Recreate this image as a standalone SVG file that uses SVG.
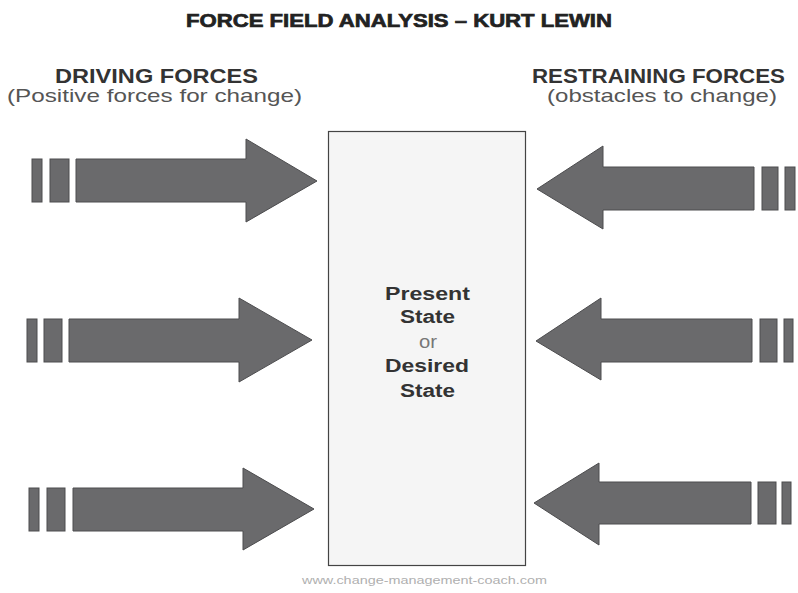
<svg xmlns="http://www.w3.org/2000/svg" width="798" height="593" viewBox="0 0 798 593">
  <style>
    .arrow { fill: #6a6a6c; stroke: #4c4c4e; stroke-width: 1; stroke-linejoin: miter; }
    .title { font-family: "Liberation Sans", Arial, sans-serif; font-weight: bold; font-size: 19px; fill: #222; stroke: #222; stroke-width: 0.7; }
    .head { font-family: "Liberation Sans", Arial, sans-serif; font-weight: bold; font-size: 21px; fill: #333; }
    .sub { font-family: "Liberation Sans", Arial, sans-serif; font-size: 19px; fill: #555; }
    .state { font-family: "Liberation Sans", Arial, sans-serif; font-weight: bold; font-size: 18px; fill: #333; }
    .or { font-family: "Liberation Sans", Arial, sans-serif; font-size: 18px; fill: #777; }
    .foot { font-family: "Liberation Sans", Arial, sans-serif; font-size: 10.5px; fill: #b0b0b0; }
  </style>

  <rect x="0" y="0" width="798" height="593" fill="#ffffff"/>

  <g id="title">
    <text class="title" x="186" y="27" textLength="426" lengthAdjust="spacingAndGlyphs">FORCE FIELD ANALYSIS – KURT LEWIN</text>
  </g>

  <g id="driving-heading">
    <text class="head" x="55" y="83" textLength="203" lengthAdjust="spacingAndGlyphs">DRIVING FORCES</text>
    <text class="sub" x="7" y="102" textLength="295" lengthAdjust="spacingAndGlyphs">(Positive forces for change)</text>
  </g>

  <g id="restraining-heading">
    <text class="head" x="532" y="83" textLength="253" lengthAdjust="spacingAndGlyphs">RESTRAINING FORCES</text>
    <text class="sub" x="547" y="102" textLength="230" lengthAdjust="spacingAndGlyphs">(obstacles to change)</text>
  </g>

  <g id="state-box">
    <rect x="328.5" y="131.5" width="197" height="434" fill="#f5f5f5" stroke="#444" stroke-width="1.2"/>
    <text class="state" x="385" y="300" textLength="85" lengthAdjust="spacingAndGlyphs">Present</text>
    <text class="state" x="400" y="323" textLength="55" lengthAdjust="spacingAndGlyphs">State</text>
    <text class="or" x="419" y="348" textLength="18" lengthAdjust="spacingAndGlyphs">or</text>
    <text class="state" x="385" y="372" textLength="84" lengthAdjust="spacingAndGlyphs">Desired</text>
    <text class="state" x="400" y="397" textLength="55" lengthAdjust="spacingAndGlyphs">State</text>
  </g>

  <g id="forces">
    <!-- driving forces, pointing right -->
    <g id="drive-1">
      <rect class="arrow" x="32" y="159" width="10" height="43"/>
      <rect class="arrow" x="50" y="159" width="19" height="43"/>
      <polygon class="arrow" points="76,159 246,159 246,139 317,181 246,222 246,202 76,202"/>
    </g>
    <g id="drive-2">
      <rect class="arrow" x="27" y="319" width="10" height="43"/>
      <rect class="arrow" x="44" y="319" width="18" height="43"/>
      <polygon class="arrow" points="69,319 239,319 239,298 312,340 239,382 239,362 69,362"/>
    </g>
    <g id="drive-3">
      <rect class="arrow" x="29" y="488" width="10" height="43"/>
      <rect class="arrow" x="47" y="488" width="18" height="43"/>
      <polygon class="arrow" points="73,488 243,488 243,468 314,509 243,550 243,531 73,531"/>
    </g>

    <!-- restraining forces, pointing left -->
    <g id="restrain-1">
      <polygon class="arrow" points="537,189 603,146 603,167 754,167 754,210 603,210 603,229"/>
      <rect class="arrow" x="762" y="167" width="16" height="43"/>
      <rect class="arrow" x="785" y="167" width="10" height="43"/>
    </g>
    <g id="restrain-2">
      <polygon class="arrow" points="536,341 601,298 601,319 752,319 752,362 601,362 601,380"/>
      <rect class="arrow" x="760" y="319" width="17" height="43"/>
      <rect class="arrow" x="784" y="319" width="9" height="43"/>
    </g>
    <g id="restrain-3">
      <polygon class="arrow" points="534,503 599,463 599,482 751,482 751,524 599,524 599,545"/>
      <rect class="arrow" x="758" y="482" width="18" height="42"/>
      <rect class="arrow" x="782" y="482" width="9" height="42"/>
    </g>
  </g>

  <g id="footer">
    <text class="foot" x="302" y="584" textLength="245" lengthAdjust="spacingAndGlyphs">www.change-management-coach.com</text>
  </g>
</svg>
